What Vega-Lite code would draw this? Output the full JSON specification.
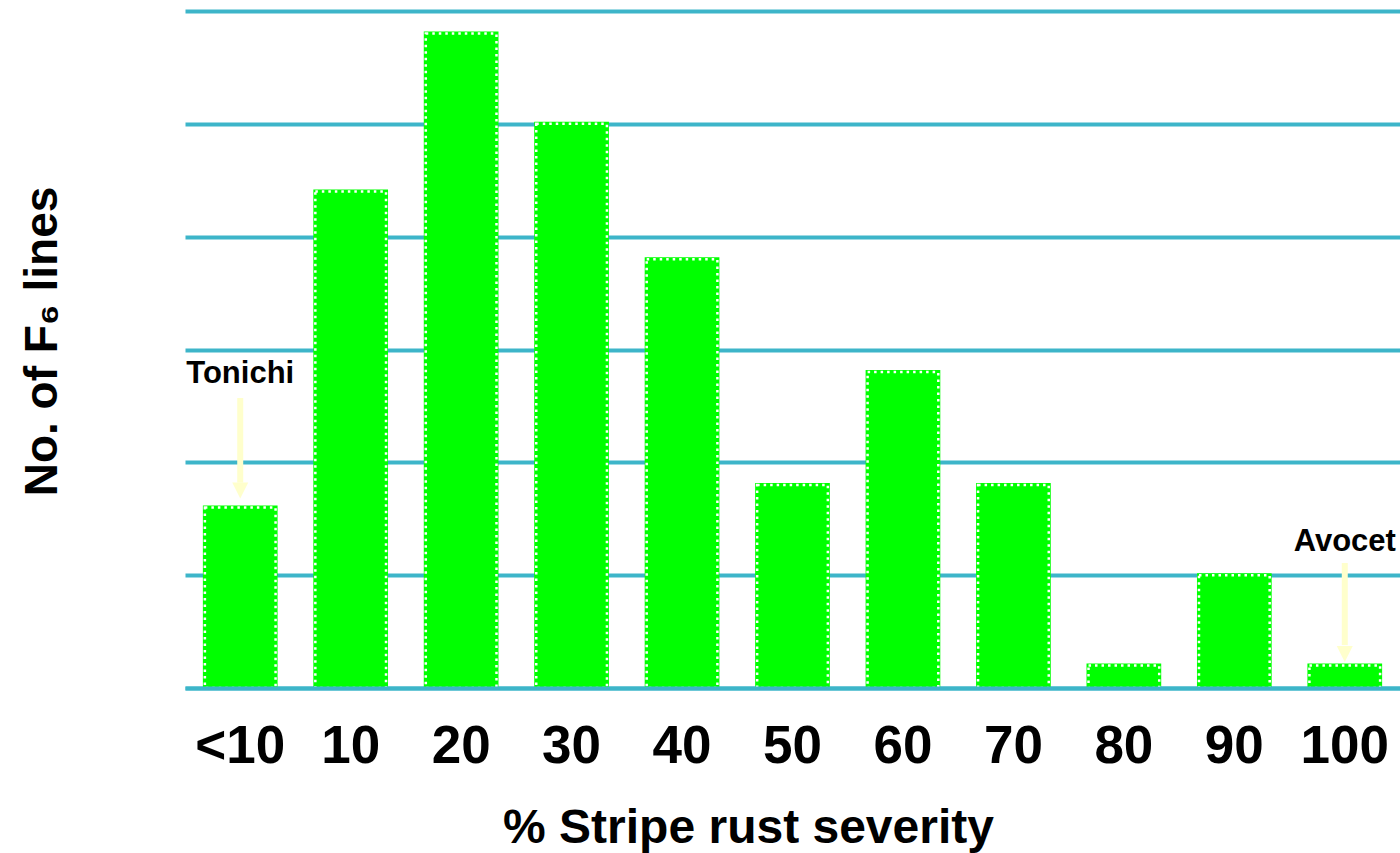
{
  "$schema": "https://vega.github.io/schema/vega-lite/v6.json",
  "autosize": "none",
  "width": 1215,
  "height": 677,
  "padding": {"left": 185, "top": 11, "right": 0, "bottom": 165},
  "background": "white",
  "config": {
    "view": {"stroke": null},
    "font": "Liberation Sans, Arial, DejaVu Sans, sans-serif"
  },
  "datasets": {
    "severity": [
      {"class": "<10", "lines": 8},
      {"class": "10", "lines": 22},
      {"class": "20", "lines": 29},
      {"class": "30", "lines": 25},
      {"class": "40", "lines": 19},
      {"class": "50", "lines": 9},
      {"class": "60", "lines": 14},
      {"class": "70", "lines": 9},
      {"class": "80", "lines": 1},
      {"class": "90", "lines": 5},
      {"class": "100", "lines": 1}
    ],
    "checks": [
      {"class": "<10", "label": "Tonichi", "labelAt": 13.9, "from": 12.85, "shaftEnd": 9.1, "tip": 8.4},
      {"class": "100", "label": "Avocet", "labelAt": 6.47, "from": 5.54, "shaftEnd": 1.9, "tip": 1.15}
    ]
  },
  "encoding": {
    "x": {
      "field": "class",
      "type": "nominal",
      "sort": null,
      "scale": {
        "domain": ["<10", "10", "20", "30", "40", "50", "60", "70", "80", "90", "100"],
        "paddingInner": 0.36,
        "paddingOuter": 0.18
      },
      "axis": {
        "title": "% Stripe rust severity",
        "titleFontSize": 48,
        "titleFontWeight": "bold",
        "titleColor": "black",
        "titlePadding": 31,
        "titleX": 563,
        "labelAngle": 0,
        "labelFontSize": 53,
        "labelFontWeight": "bold",
        "labelColor": "black",
        "labelPadding": 32,
        "ticks": false,
        "grid": false,
        "domain": true,
        "domainColor": "#3DB5C9",
        "domainWidth": 4,
        "zindex": 1
      }
    }
  },
  "layer": [
    {
      "data": {"name": "severity"},
      "mark": {"type": "bar", "fill": "#00FF00", "stroke": "#00FF00", "strokeWidth": 4},
      "encoding": {
        "y": {
          "field": "lines",
          "type": "quantitative",
          "scale": {"domain": [0, 30], "nice": false},
          "axis": {
            "title": "No. of F₆ lines",
            "titleFontSize": 46,
            "titleFontWeight": "bold",
            "titleColor": "black",
            "titlePadding": 119,
            "titleY": 330,
            "values": [0, 5, 10, 15, 20, 25, 30],
            "grid": true,
            "gridColor": "#3DB5C9",
            "gridWidth": 4,
            "labels": false,
            "ticks": false,
            "domain": false
          }
        }
      }
    },
    {
      "data": {"name": "severity"},
      "mark": {"type": "bar", "fillOpacity": 0, "stroke": "white", "strokeWidth": 2.5, "strokeDash": [2.5, 4]},
      "encoding": {
        "y": {"field": "lines", "type": "quantitative"}
      }
    },
    {
      "data": {"name": "checks"},
      "mark": {"type": "rule", "color": "#FFFFCC", "strokeWidth": 6, "strokeCap": "butt"},
      "encoding": {
        "y": {"field": "from", "type": "quantitative"},
        "y2": {"field": "shaftEnd"}
      }
    },
    {
      "data": {"name": "checks"},
      "mark": {"type": "point", "shape": "M -1 -2 L 1 -2 L 0 0 Z", "size": 256, "filled": true, "color": "#FFFFCC", "opacity": 1},
      "encoding": {
        "y": {"field": "tip", "type": "quantitative"}
      }
    },
    {
      "data": {"name": "checks"},
      "mark": {"type": "text", "fontSize": 31, "fontWeight": "bold", "color": "black", "baseline": "middle", "align": "center"},
      "encoding": {
        "y": {"field": "labelAt", "type": "quantitative"},
        "text": {"field": "label"}
      }
    }
  ]
}
